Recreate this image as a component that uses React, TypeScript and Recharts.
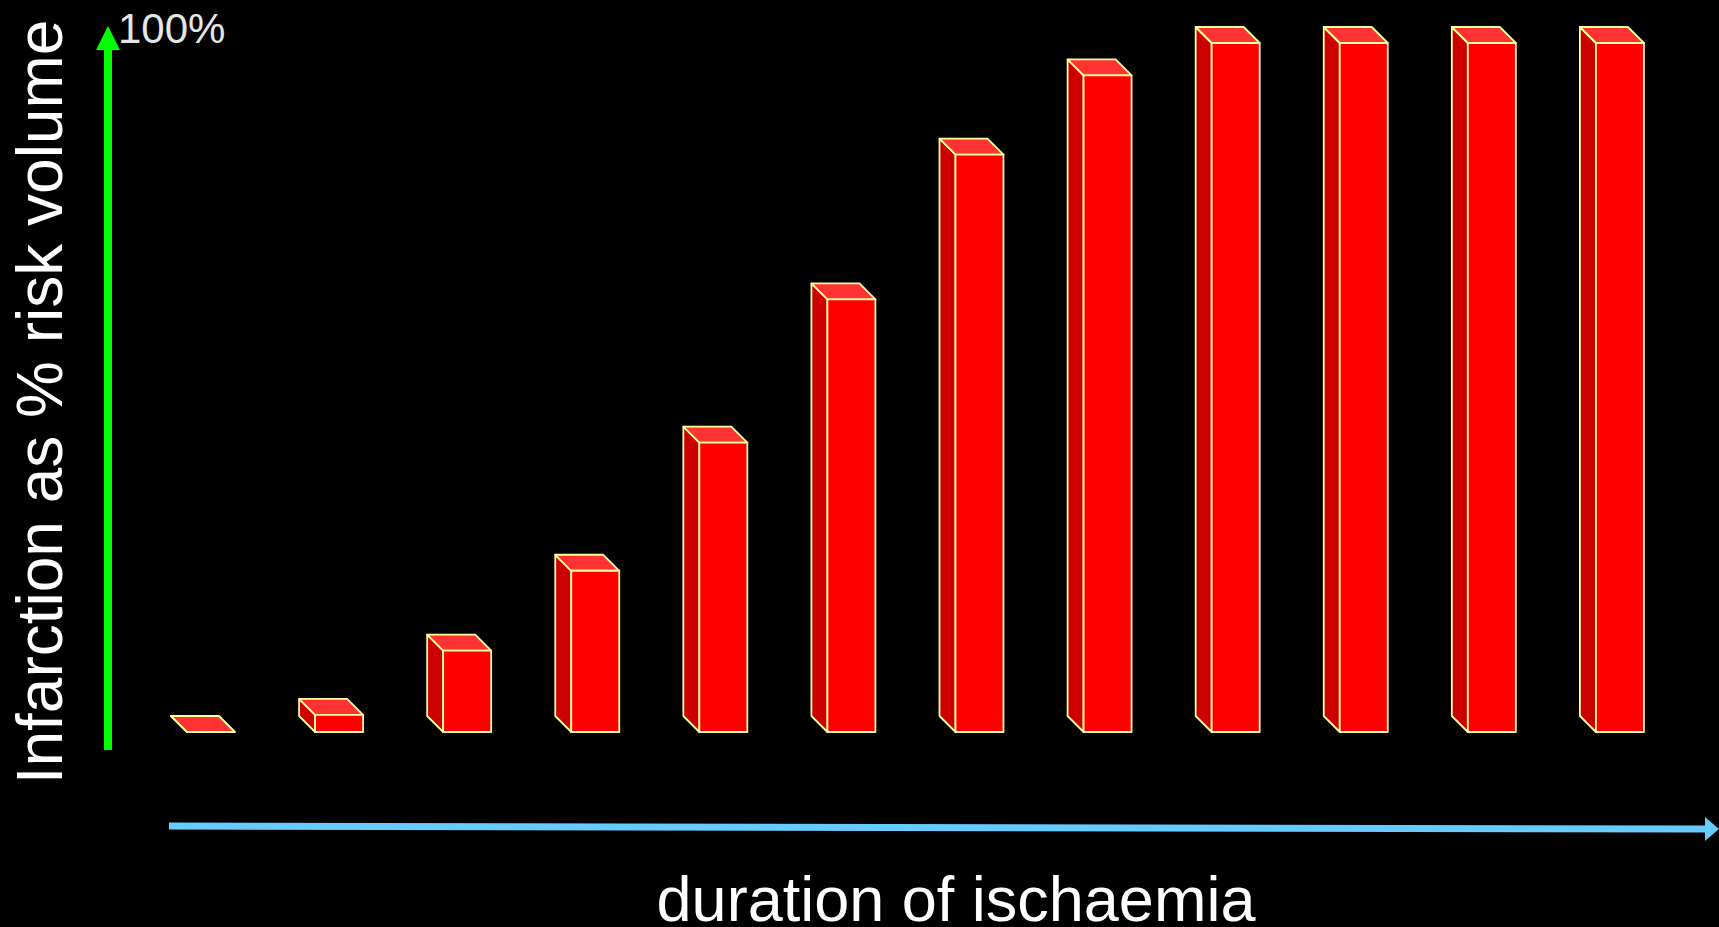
import { BarChart, Bar, XAxis, YAxis } from 'recharts';

// relative infarct size per ischaemia step (% of risk volume)
const steps = ['1', '2', '3', '4', '5', '6', '7', '8', '9', '10', '11', '12'];
const infarctPct = [0, 2.5, 11.8, 23.4, 42, 62.8, 83.8, 95.3, 100, 100, 100, 100];
const yTicks = [100];

const data = steps.map((step, i) => ({ step, value: infarctPct[i] }));

const DEPTH = 16;
const EDGE = '#FFFF99';
const FONT = '"Liberation Sans", Arial, sans-serif';

function Box3D(props: any) {
  const { x, y, width: w, height: h } = props;
  const d = DEPTH;
  return (
    <g strokeWidth={1.8} stroke={EDGE} strokeLinejoin="round">
      <polygon
        points={`${x - d},${y - d} ${x},${y} ${x},${y + h} ${x - d},${y + h - d}`}
        fill="#CC0000"
      />
      <polygon
        points={`${x - d},${y - d} ${x + w - d},${y - d} ${x + w},${y} ${x},${y}`}
        fill="#FF3333"
      />
      {h > 0 && <rect x={x} y={y} width={w} height={h} fill="#FF0000" />}
    </g>
  );
}

function PctTick(props: any) {
  const { y, payload } = props;
  return (
    <text x={118} y={y} fill="#E6E6E6" fontSize={42} fontFamily={FONT}>
      {payload.value}%
    </text>
  );
}

export default function App() {
  return (
    <div style={{ position: 'absolute', left: 0, top: 0, width: 1719, height: 927, background: '#000' }}>
      <BarChart
        width={1719}
        height={927}
        data={data}
        margin={{ top: 43, right: 35, bottom: 195, left: 107 }}
      >
        <XAxis dataKey="step" hide />
        <YAxis
          width={40}
          domain={[0, 100]}
          ticks={yTicks}
          axisLine={false}
          tickLine={false}
          tick={<PctTick />}
        />
        <Bar dataKey="value" barSize={48} shape={<Box3D />} isAnimationActive={false} />

        {/* y arrow */}
        <rect x={104} y={48} width={8} height={702} fill="#00FF00" />
        <polygon points="108,26 96,50 120,50" fill="#00FF00" />
        {/* x arrow */}
        <line x1={169} y1={826} x2={1706} y2={829} stroke="#66CCFF" strokeWidth={7} />
        <polygon points="1719,829 1705,817 1705,841" fill="#66CCFF" />

        <text
          x={62}
          y={402}
          transform="rotate(-90, 62, 402)"
          textAnchor="middle"
          fill="#FFFFFF"
          fontSize={64}
          fontFamily={FONT}
        >
          Infarction as % risk volume
        </text>
        <text x={956} y={921} textAnchor="middle" fill="#FFFFFF" fontSize={63} fontFamily={FONT}>
          duration of ischaemia
        </text>
      </BarChart>
    </div>
  );
}
